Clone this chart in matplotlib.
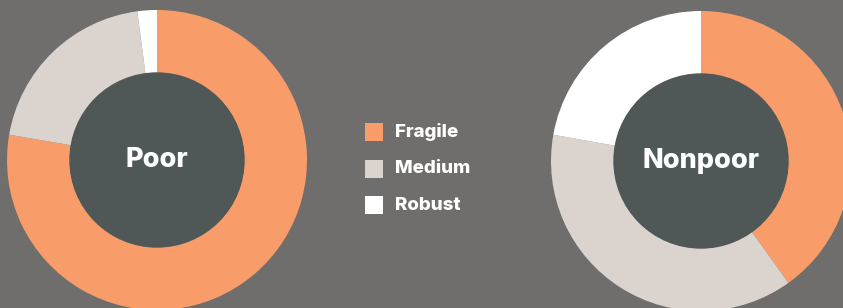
import matplotlib.pyplot as plt

# shares (percent)
categories = ['Fragile', 'Medium', 'Robust']
poor = [77.7, 20.2, 2.1]
nonpoor = [40.1, 37.7, 22.2]
groups = ['Poor', 'Nonpoor']

colors = ['#F89C69', '#DAD3CE', '#FFFFFF']
bg = '#6F6E6C'
hole = '#4F5757'

fig = plt.figure(figsize=(8.43, 3.08), dpi=100, facecolor=bg)
ax = fig.add_axes([0, 0, 1, 1])
ax.set_facecolor(bg)

centers = [(157, 148), (701, 147)]
for vals, name, c in zip([poor, nonpoor], groups, centers):
    ax.pie(vals, colors=colors, startangle=90, counterclock=False,
           radius=150, center=c, frame=True,
           wedgeprops=dict(width=63, linewidth=0))
    ax.add_patch(plt.Circle(c, 87, color=hole, zorder=3))
    ax.text(c[0], c[1], name, ha='center', va='center', color='white',
            fontsize=19.5, fontweight='heavy', family='Inter', zorder=4)

# legend drawn by hand
for i, (lab, col) in enumerate(zip(categories, colors)):
    y = 308 - 132 - i * 36.5
    ax.add_patch(plt.Rectangle((365, y - 9), 18, 18, color=col, lw=0, zorder=4))
    ax.text(395, y, lab, ha='left', va='center', color='white',
            fontsize=13.5, fontweight='heavy', family='Inter', zorder=4)

ax.set_xlim(0, 843)
ax.set_ylim(0, 308)
ax.set_aspect('equal')
ax.axis('off')

fig.savefig('out.png', dpi=100, facecolor=bg)
